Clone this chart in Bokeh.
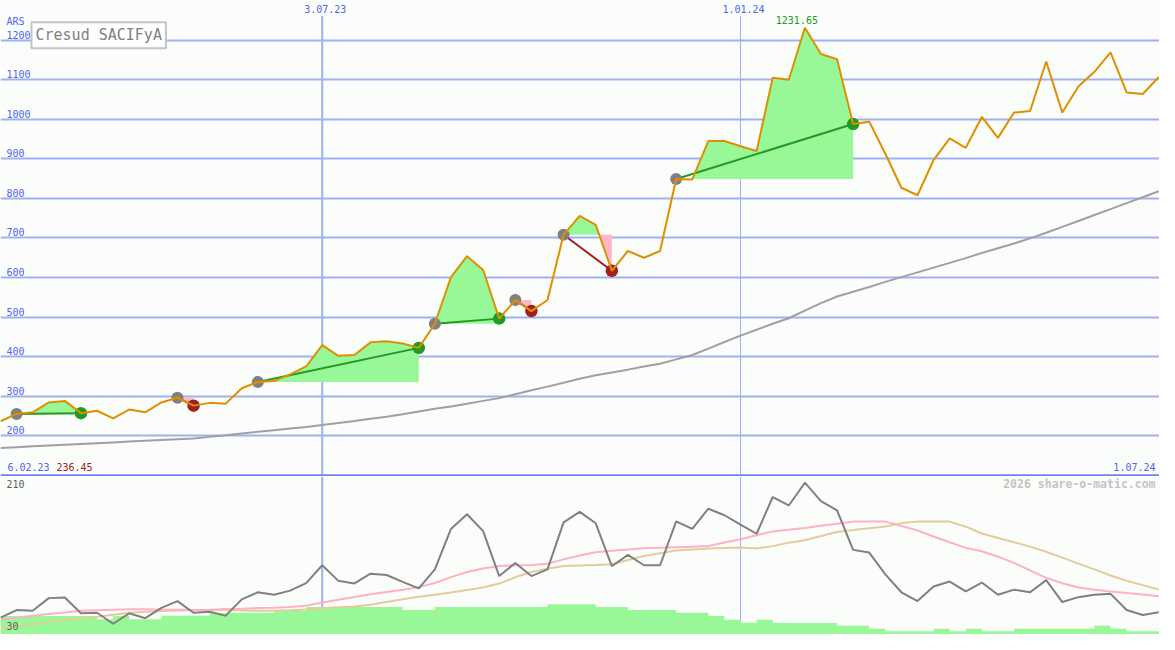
import datetime as dt
from bokeh.plotting import figure
from bokeh.layouts import column
from bokeh.models import Range1d, FixedTicker, Grid, Span, Label
from bokeh.core.properties import value
from bokeh.embed import file_html
from bokeh.resources import INLINE

# ---------------- data ----------------
first_date = dt.datetime(2023, 2, 13)
last_date = dt.datetime(2024, 7, 1)
n_weeks = 73
dates = [first_date + dt.timedelta(weeks=i) for i in range(n_weeks)]

price = [236.45, 255, 259, 284, 288, 257, 263, 244, 266, 259,
         284, 296, 276, 283, 281, 320, 336, 338, 355, 375,
         429, 402, 404, 436, 439, 433, 422, 483, 601, 654,
         619, 496, 543, 515, 543, 708, 756, 733, 617, 667,
         650, 667, 849, 848, 945, 945, 932, 920, 1105, 1100,
         1231.65, 1165, 1152, 988, 994, 913, 827, 808, 897, 952,
         928, 1006, 953, 1017, 1021, 1146, 1017, 1083, 1120, 1169,
         1068, 1064, 1107]

ma_long = [169, 171, 173, 175, 177, 179, 181, 183, 185, 187,
           189, 191, 193, 197, 201, 205.5, 210, 214, 218, 222,
           227, 232, 237, 243, 248, 254, 261, 268, 274, 281,
           288, 295, 305, 315, 324, 334, 344, 353, 360, 367,
           375, 382, 393, 404, 420, 437, 453, 468, 483, 497,
           516, 535, 552, 564, 576, 589, 601, 613, 625, 637,
           649, 662, 674, 686, 699, 713, 728, 743, 758, 773,
           788, 803, 818]

momentum = [49.3, 58, 57.2, 71.7, 72.5, 54.3, 54.9, 42.3, 54.3, 48.7,
             60.5, 68.3, 54.9, 56, 51.6, 70.3, 78.4, 75.5, 80.3, 88.9,
             109.4, 91.5, 88.5, 99.7, 98.2, 90.4, 82.9, 104.6, 151, 167.9,
             148.5, 97, 112, 97, 104.6, 158.6, 170.5, 157.5, 108.3, 121.3,
             109.4, 109.4, 159.7, 151, 174.2, 166.7, 156, 145.5, 187.6, 177.9,
             204, 182.8, 172.3, 127, 123.9, 99, 78.4, 68.3, 85.1, 90.7,
             79.5, 89.6, 75.5, 81.4, 78.4, 92.3, 67.2, 72.8, 75.5, 76.6,
             58, 52.4, 55.4]

mom_fast = [46.8, 49.2, 51.6, 53.5, 55.2, 57.1, 57.7, 58.3, 59, 58.9,
            58.5, 58.3, 58, 58.4, 59.1, 59.6, 60.3, 60.8, 61.4, 63,
            66.7, 69.9, 73, 76.1, 78.6, 81.4, 84.3, 89, 95.8, 101.6,
            105.6, 108.6, 109.5, 109.7, 111.2, 116.1, 120.5, 124.4, 126.1, 127.5,
            128.8, 129.4, 130, 130.6, 131.5, 135.4, 139.3, 143.8, 148.2, 150,
            152.2, 154.6, 156.9, 159.4, 159.4, 159.4, 154.3, 149.4, 142.3, 135.7,
            129.3, 125.5, 119.2, 112.1, 103.6, 95, 88.8, 83.8, 81.3, 79.3,
            77.5, 75.8, 73.9]

mom_slow = [36.7, 39.3, 41.9, 44.2, 46.5, 48.3, 50.2, 52.6, 55, 56,
            56.9, 57.6, 58.2, 58.2, 58, 57.6, 57.1, 57.2, 57.7, 58.7,
            60.1, 61.2, 62.2, 64.2, 67.2, 70.3, 73.2, 75.7, 78.1, 81,
            83.9, 88.4, 95.6, 101.7, 105.5, 108.5, 109.2, 109.7, 110.5, 115.3,
            119.9, 123.2, 126.3, 127.5, 128.7, 129.3, 129.8, 128.7, 131.3, 135.3,
            138, 142.9, 147.6, 149.7, 151.9, 153.8, 157.7, 159.4, 159.4, 159.4,
            153.6, 145.8, 140.6, 135.7, 130.7, 124.8, 118.1, 111.3, 104.7, 97.6,
            91.6, 86.6, 81.5]

volume = [190, 190, 190, 190, 190, 190, 157, 190, 157, 157,
          193, 193, 193, 217, 223, 223, 223, 243, 243, 283,
          283, 283, 283, 283, 283, 250, 250, 283, 283, 283,
          283, 283, 283, 283, 310, 310, 310, 283, 283, 250,
          250, 250, 223, 223, 190, 150, 120, 150, 117, 117,
          117, 117, 90, 90, 60, 33, 33, 33, 60, 33,
          60, 33, 33, 60, 60, 60, 60, 60, 90, 60,
          33, 33, 33]

entry_idx = [1, 11, 16, 27, 32, 35, 42]
exit_idx = [5, 12, 26, 31, 33, 38, 53]

price_ticks = [200, 300, 400, 500, 600, 700, 800, 900, 1000, 1100, 1200]
currency = "ARS"
title = "Cresud SACIFyA"
mark_dates = [dt.datetime(2023, 7, 3), dt.datetime(2024, 1, 1)]
mark_labels = ["3.07.23", "1.01.24"]
start_label = "6.02.23"
start_price_label = "236.45"
end_label = "1.07.24"
peak_idx = 50
peak_label = "1231.65"
osc_low, osc_high = 30, 210
watermark = "2026 share-o-matic.com"

# ---------------- styling ----------------
BG = "#fbfdfb"
GRID = "#a0b0f0"
SEP = "#7080f0"
BLUE = "#5064f0"
PRICE_C = "#dd9000"
MA_C = "#a0a0a0"
GFILL = "#98f898"
PFILL = "#ffb8c8"
GLINE = "#229922"
RLINE = "#a02020"
GREYC = "#808080"
FAST_C = "#ffb0c4"
SLOW_C = "#e2cc9c"
VOL_C = "#98f898"
FONT = value("DejaVu Sans Mono")

W, H1, H2 = 1159, 476, 158
DAY = 86400000.0
EPOCH = dt.datetime(1970, 1, 1)


def ms(d):
    return (d - EPOCH).total_seconds() * 1000.0


xs = [ms(d) for d in dates]
x0 = ms(first_date)
x1 = ms(last_date) + 0.3 * DAY
xr = Range1d(x0, x1)

TOP_HI = 1300.4
TOP_LO = 96.8
PXU = 488.0 / (TOP_HI - TOP_LO)  # reference px per price unit

top = figure(width=W, height=H1, x_range=xr, y_range=Range1d(TOP_LO, TOP_HI),
             output_backend="svg", toolbar_location=None,
             x_axis_location=None, y_axis_location=None, min_border=0,
             background_fill_color=BG, border_fill_color=BG, outline_line_color=None)
top.grid.visible = False
top.add_layout(Grid(dimension=1, ticker=FixedTicker(ticks=price_ticks),
                    grid_line_color=GRID, grid_line_width=2))

mark_ms = [ms(d) for d in mark_dates]
seg_top = TOP_HI - 16 / PXU
top.segment(x0=mark_ms, y0=[TOP_LO] * 2, x1=mark_ms, y1=[seg_top] * 2,
            line_color=GRID, line_width=[2, 1])
top.add_layout(Span(location=100, dimension="width", line_color=SEP, line_width=2))


def split_fill(px, py, lvl):
    ox, oy = [px[0]], [py[0]]
    for k in range(1, len(px)):
        a, b = py[k - 1], py[k]
        if (a - lvl) * (b - lvl) < 0:
            t = (lvl - a) / (b - a)
            ox.append(px[k - 1] + t * (px[k] - px[k - 1]))
            oy.append(lvl)
        ox.append(px[k])
        oy.append(b)
    return ox, [max(v, lvl) for v in oy], [min(v, lvl) for v in oy]


for e, x in zip(entry_idx, exit_idx):
    lvl = price[e]
    fx, up, dn = split_fill(xs[e:x + 1], price[e:x + 1], lvl)
    top.varea(x=fx, y1=[lvl] * len(fx), y2=up, fill_color=GFILL)
    top.varea(x=fx, y1=[lvl] * len(fx), y2=dn, fill_color=PFILL)

top.line(xs, ma_long, line_color=MA_C, line_width=2)

ex_x = [xs[e] for e in entry_idx]
ex_y = [price[e] for e in entry_idx]
ox_x = [xs[x] for x in exit_idx]
ox_y = [price[x] for x in exit_idx]
win = [price[x] >= price[e] for e, x in zip(entry_idx, exit_idx)]
top.segment(x0=ex_x, y0=ex_y, x1=ox_x, y1=ox_y,
            line_color=[GLINE if w else RLINE for w in win], line_width=2)
top.scatter(ex_x, ex_y, size=12, fill_color=GREYC, line_color=None)
top.scatter(ox_x, ox_y, size=12.5, fill_color=[GLINE if w else RLINE for w in win], line_color=None)

top.line(xs, price, line_color=PRICE_C, line_width=2)

# labels (baseline "middle": the anchor is the text's vertical centre)
TXT = dict(text_font=FONT, text_font_size="10px", text_baseline="middle")
top.text(x=[x0] * len(price_ticks), y=price_ticks, text=[str(t) for t in price_ticks],
         x_offset=6, y_offset=-5.5, text_color=BLUE, text_align="left", **TXT)
top.text(x=[x0], y=[price_ticks[-1]], text=[currency], x_offset=6, y_offset=-18.5,
         text_color=BLUE, text_align="left", **TXT)
top.text(x=mark_ms, y=[TOP_HI] * 2, text=mark_labels, x_offset=3, y_offset=8.8,
         text_color=BLUE, text_align="center", **TXT)
top.text(x=[xs[peak_idx]], y=[price[peak_idx]], text=[peak_label], x_offset=-8, y_offset=-7.5,
         text_color=GLINE, text_align="center", **TXT)
top.text(x=[x0, x0], y=[100, 100], text=[start_label, start_price_label], x_offset=[7, 56],
         y_offset=-7.8, text_color=[BLUE, RLINE], text_align="left", **TXT)
top.text(x=[x1], y=[100], text=[end_label], x_offset=-4, y_offset=-7.8,
         text_color=BLUE, text_align="right", **TXT)

title_y = TOP_HI - 35.5 / PXU
top.add_layout(Label(x=x0, y=title_y, x_units="data", y_units="data", x_offset=31,
                     text=title, text_font="DejaVu Sans Mono", text_font_size="15px",
                     text_color="#808080", text_baseline="middle",
                     border_line_color="#c4c4c4", border_line_width=2,
                     background_fill_color="#fefefe", padding=4))

# ---------------- bottom panel ----------------
BOT_HI = osc_low + 162 / 0.8944
bot = figure(width=W, height=H2, x_range=xr, y_range=Range1d(osc_low, BOT_HI),
             output_backend="svg", toolbar_location=None,
             x_axis_location=None, y_axis_location=None, min_border=0,
             background_fill_color=BG, border_fill_color=BG, outline_line_color=None)
bot.grid.visible = False
bot.extra_y_ranges = {"vol": Range1d(0, 1620)}
for d, w in zip(mark_ms, [2, 1]):
    bot.add_layout(Span(location=d, dimension="height", line_color=GRID, line_width=w,
                        level="underlay"))

# weekly volume as a step area (each week spans its own 7 days)
step_x, step_y = [], []
for xv, vv in zip(xs, volume):
    step_x += [xv, xv + 7 * DAY]
    step_y += [vv, vv]
bot.varea(x=step_x, y1=[0] * len(step_x), y2=step_y, fill_color=VOL_C, y_range_name="vol")

bot.line(xs, mom_slow, line_color=SLOW_C, line_width=2)
bot.line(xs, mom_fast, line_color=FAST_C, line_width=2)
bot.line(xs, momentum, line_color=GREYC, line_width=2)

bot.text(x=[x0, x0], y=[BOT_HI, osc_low], text=[str(osc_high), str(osc_low)],
         x_offset=6, y_offset=[7.8, -8.5], text_color="#606060", text_align="left", **TXT)
bot.text(x=[x1], y=[BOT_HI], text=[watermark], x_offset=-4, y_offset=7.8,
         text_font=FONT, text_font_size="11.5px", text_font_style="bold",
         text_color="#c4c4c4", text_baseline="middle", text_align="right")

layout = column(top, bot, spacing=0)
open("out.html", "w").write(file_html(layout, INLINE))
